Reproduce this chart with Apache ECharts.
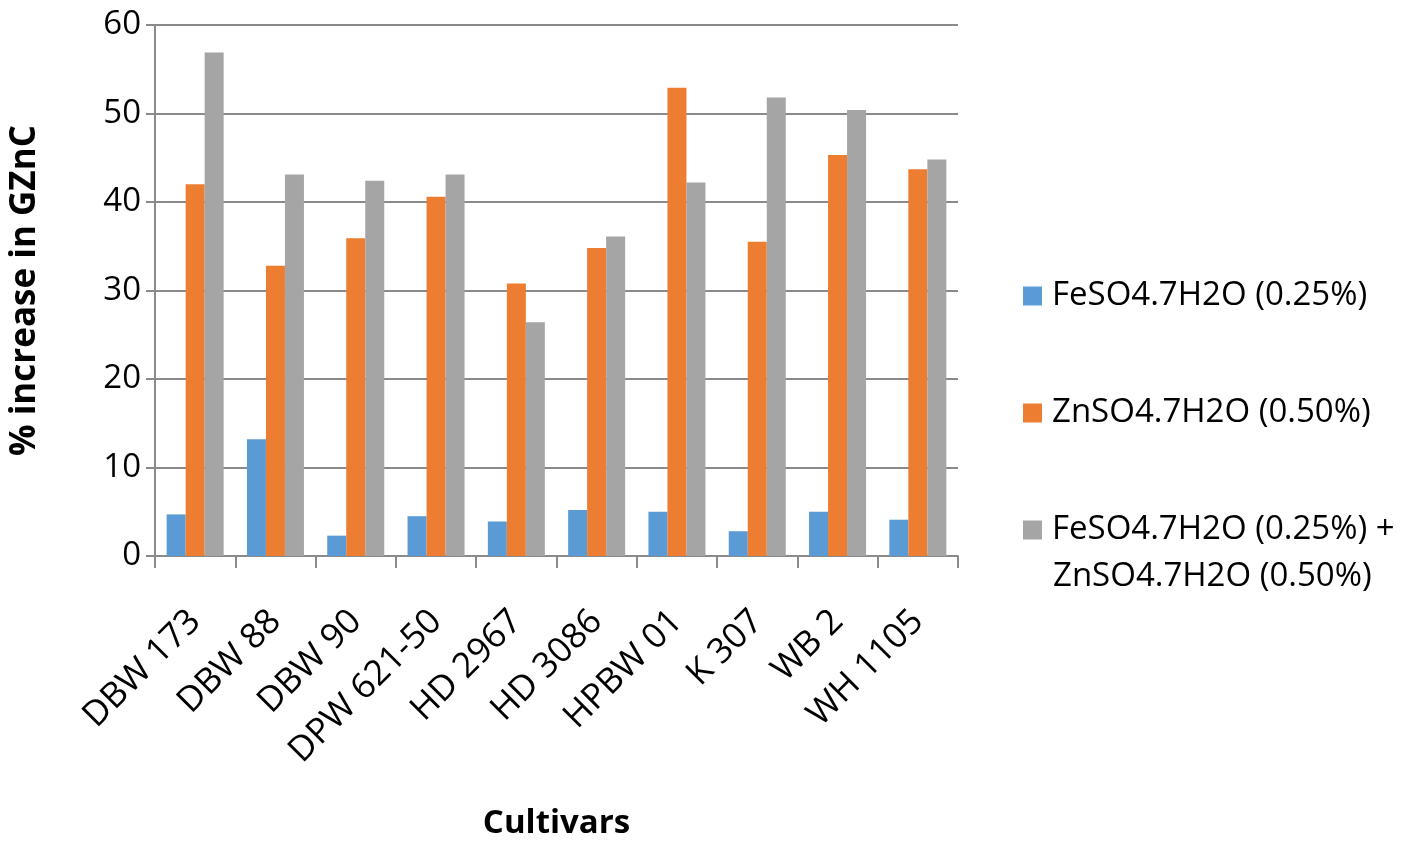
<!DOCTYPE html>
<html>
<head>
<meta charset="utf-8">
<script src="https://cdn.jsdelivr.net/npm/echarts@6/dist/echarts.min.js"></script>
<style>
  html, body { margin: 0; padding: 0; background: #fff; }
  #main { width: 1417px; height: 845px; }
</style>
</head>
<body>
<div id="main"></div>
<script>
const categories = ['DBW 173', 'DBW 88', 'DBW 90', 'DPW 621-50', 'HD 2967', 'HD 3086', 'HPBW 01', 'K 307', 'WB 2', 'WH 1105'];
const feValues = [4.7, 13.2, 2.3, 4.5, 3.9, 5.2, 5.0, 2.8, 5.0, 4.1];
const znValues = [42.0, 32.8, 35.9, 40.6, 30.8, 34.8, 52.9, 35.5, 45.3, 43.7];
const bothValues = [56.9, 43.1, 42.4, 43.1, 26.4, 36.1, 42.2, 51.8, 50.4, 44.8];
const seriesNames = ['FeSO4.7H2O (0.25%)', 'ZnSO4.7H2O (0.50%)', 'FeSO4.7H2O (0.25%) + ZnSO4.7H2O (0.50%)'];
// legend text of the combined treatment is split over two lines
const comboLines = ['FeSO4.7H2O (0.25%) +', 'ZnSO4.7H2O (0.50%)'];

const chart = echarts.init(document.getElementById('main'));
const font = 'Open Sans';
const gridColor = '#8a8a8a';
const legendFont = 33;

function legendAt(name, top, formatter) {
  const l = {
    data: [name],
    left: 1023,
    top: top,
    padding: 0,
    icon: 'rect',
    itemWidth: 19,
    itemHeight: 19,
    selectedMode: false,
    textStyle: {
      fontFamily: font,
      fontSize: legendFont,
      color: '#000',
      lineHeight: 40,
      padding: [0, 0, 0, 5]
    }
  };
  if (formatter) l.formatter = formatter;
  return l;
}

const option = {
  animation: false,
  color: ['#5B9BD5', '#ED7D31', '#A5A5A5'],
  grid: { left: 152, right: 459, top: 25, bottom: 281 },
  legend: [
    legendAt(seriesNames[0], 276),
    legendAt(seriesNames[1], 393),
    legendAt(seriesNames[2], 510, function () { return comboLines[0]; })
  ],
  graphic: [{
    type: 'text',
    left: 1053,
    top: 560,
    style: {
      text: comboLines[1],
      font: legendFont + 'px "' + font + '"',
      fill: '#000'
    }
  }],
  xAxis: {
    type: 'category',
    data: categories,
    name: 'Cultivars',
    nameLocation: 'middle',
    nameGap: 251,
    nameTextStyle: { fontFamily: font, fontSize: 33, fontWeight: 'bold', color: '#000' },
    axisLine: { lineStyle: { color: gridColor, width: 2 } },
    axisTick: { show: true, length: 12, lineStyle: { color: gridColor, width: 2 } },
    axisLabel: { rotate: 45, margin: 60, interval: 0, fontFamily: font, fontSize: 35, color: '#000' }
  },
  yAxis: {
    type: 'value',
    min: 0,
    max: 60,
    interval: 10,
    name: '% increase in GZnC',
    nameLocation: 'middle',
    nameRotate: 90,
    nameGap: 112,
    nameTextStyle: { fontFamily: font, fontSize: 35, fontWeight: 'bold', color: '#000' },
    axisLine: { show: true, lineStyle: { color: gridColor, width: 2 } },
    axisTick: { show: true, length: 9, lineStyle: { color: gridColor, width: 2 } },
    axisLabel: { margin: 14, fontFamily: font, fontSize: 33, color: '#000' },
    splitLine: { lineStyle: { color: gridColor, width: 2 } }
  },
  series: [
    { name: seriesNames[0], type: 'bar', data: feValues, barGap: '0%', barCategoryGap: '29%' },
    { name: seriesNames[1], type: 'bar', data: znValues, barGap: '0%', barCategoryGap: '29%' },
    { name: seriesNames[2], type: 'bar', data: bothValues, barGap: '0%', barCategoryGap: '29%' }
  ]
};

chart.setOption(option);
</script>
</body>
</html>
